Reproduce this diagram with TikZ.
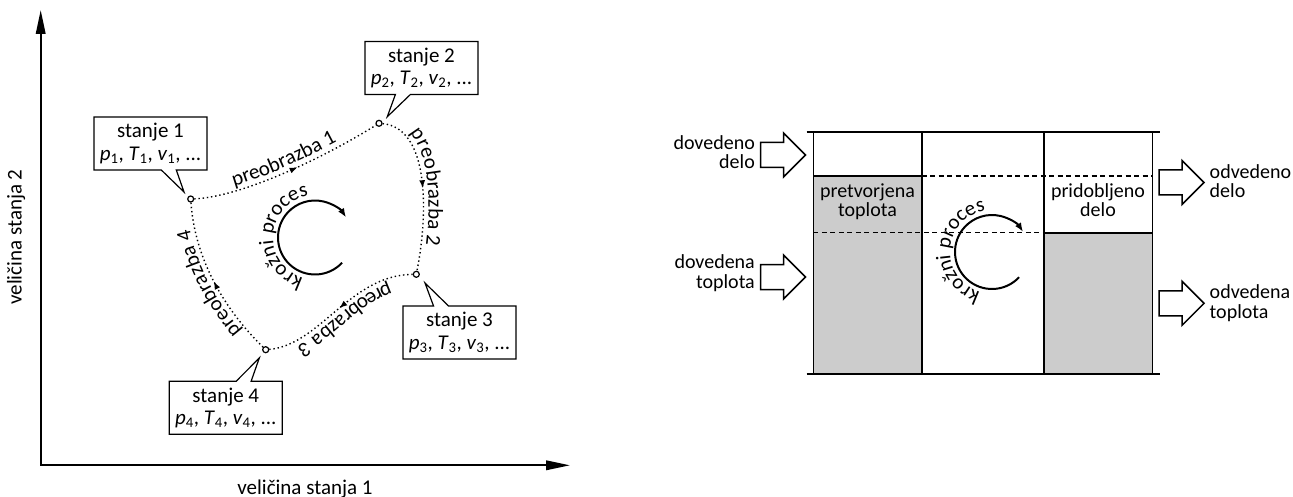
\documentclass[tikz,border=0pt]{standalone}
\usepackage{fontspec}
\setmainfont{Carlito}
\usetikzlibrary{arrows.meta,decorations.markings,decorations.text,shapes.callouts}
\newcommand\lblfont{\fontsize{21pt}{22.3pt}\selectfont}
\newcommand\colfont{\fontsize{20pt}{19.5pt}\selectfont}
\newcommand\pvt[1]{\textit{p}\textsubscript{#1}, \textit{T}\textsubscript{#1}, \textit{v}\textsubscript{#1}, ...}
\definecolor{shadegray}{gray}{0.8}
\begin{document}
\begin{tikzpicture}[x=1pt,y=-1pt,
  font=\lblfont,
  axisline/.style={line width=2pt, line join=miter},
  state/.style={rectangle callout, draw, fill=white, line width=1.2pt,
    minimum width=113pt, minimum height=53pt, inner sep=0pt, align=center,
    callout pointer width=15pt},
  dotpt/.style={circle, draw, fill=white, line width=1.2pt, minimum size=6pt, inner sep=0pt},
  procline/.style={line width=1.4pt, dash pattern=on 1.4pt off 2.8pt,
    postaction={decorate, decoration={markings,
      mark=at position #1 with {\arrow{Latex[length=8pt,width=6pt]}}}}},
  proclabel/.style={decorate, decoration={text along path,
    text={|\lblfont|#1}, text align=center, raise=5pt}},
  colline/.style={line width=1.6pt},
  hline/.style={line width=2.2pt},
  dashline/.style={line width=1.3pt, dash pattern=on 5pt off 3.5pt},
  coltext/.style={font=\colfont, inner sep=0pt},
  cyc/.pic={
    \draw[line width=2pt, -{Latex[length=9pt,width=7pt]}]
      (43:37) arc[start angle=43, end angle=327, radius=37];
    \path[decorate, decoration={text along path,
      text={|\lblfont|krožni proces}, text align=center}]
      (92:42) arc[start angle=92, end angle=275, radius=42];
  },
  barrow/.pic={
    \draw[fill=white, line width=1.5pt, line join=miter]
      (-23,-12.5) -- (0,-12.5) -- (0,-22) -- (22,0) -- (0,22) -- (0,12.5) -- (-23,12.5) -- cycle;
  }
]
\useasboundingbox (0,0) rectangle (1293,497);

% ---------------- left diagram ----------------
\coordinate (origin) at (40.7,465.3);
\coordinate (ytip) at (40.7,10);
\coordinate (xtip) at (570,465.3);
\draw[axisline, {Triangle[length=24pt,width=9.5pt]}-{Triangle[length=24pt,width=9.5pt]}]
  (ytip) -- (origin) -- (xtip);
\node[anchor=base] (xlab) at (305,494) {veličina stanja 1};
\node[anchor=base, rotate=90] (ylab) at (21.5,237) {veličina stanja 2};

\node[dotpt] (p1) at (190.7,199) {};
\node[dotpt] (p2) at (379,123.3) {};
\node[dotpt] (p3) at (416.3,274.3) {};
\node[dotpt] (p4) at (265.7,349.7) {};

\draw[procline=0.55] (p1) .. controls (240,197) and (320,160) .. (p2);
\draw[procline=0.5] (p2) .. controls (430,128) and (428,215) .. (p3);
\draw[procline=0.5] (p3) .. controls (350,275) and (320,345) .. (p4);
\draw[procline=0.5] (p4) .. controls (225,310) and (195,260) .. (p1);

\path[proclabel={preobrazba 1}] (p1) .. controls (240,197) and (320,160) .. (p2);
\path[proclabel={preobrazba 2}] (p2) .. controls (430,128) and (428,215) .. (p3);
\path[proclabel={preobrazba 3}] (p3) .. controls (350,275) and (320,345) .. (p4);
\path[proclabel={preobrazba 4}] (p4) .. controls (225,310) and (195,260) .. (p1);

\coordinate (t1) at (184,192);
\coordinate (t2) at (387.3,116.7);
\coordinate (t3) at (425,283);
\coordinate (t4) at (259.3,358);
\node[state, callout absolute pointer={(t1)}] (s1) at (150.5,143.5) {stanje 1\\\pvt{1}};
\node[state, callout absolute pointer={(t2)}] (s2) at (421.5,68) {stanje 2\\\pvt{2}};
\node[state, callout absolute pointer={(t3)}] (s3) at (459.5,332.5) {stanje 3\\\pvt{3}};
\node[state, callout absolute pointer={(t4)}] (s4) at (225.8,407.8) {stanje 4\\\pvt{4}};

\pic (cycL) at (315,237.5) {cyc};

% ---------------- right diagram ----------------
\fill[shadegray] (813.3,176) rectangle (921.7,374.3);
\fill[shadegray] (1044,232.7) rectangle (1152.3,374.3);
\draw[dashline] (921.7,176) -- (1152.3,176);
\draw[dashline] (813.3,232.7) -- (1044,232.7);
\draw[hline] (813.3,176) -- (921.7,176);
\draw[hline] (1044,232.7) -- (1152.3,232.7);
\foreach \xx in {813.3,921.7,1044,1152.3} {
  \draw[colline] (\xx,132.3) -- (\xx,374.3);
}
\draw[hline] (806.7,132.3) -- (1160,132.3);
\draw[hline] (806.7,374.3) -- (1160,374.3);

\node[coltext, align=center] (conv) at (867.5,201.7) {pretvorjena\\toplota};
\node[coltext, align=center] (gain) at (1098,200) {pridobljeno\\delo};

\pic (cycR) at (992,252) {cyc};

\pic (ainW) at (783.5,155) {barrow};
\pic (ainQ) at (783.5,277) {barrow};
\pic (aoutW) at (1182,182.5) {barrow};
\pic (aoutQ) at (1182,303.3) {barrow};

\node[coltext, align=right, anchor=east] (inW) at (755,152) {dovedeno\\delo};
\node[coltext, align=right, anchor=east] (inQ) at (755,273) {dovedena\\toplota};
\node[coltext, align=left, anchor=west] (outW) at (1209.5,181) {odvedeno\\delo};
\node[coltext, align=left, anchor=west] (outQ) at (1209.5,303) {odvedena\\toplota};
\end{tikzpicture}
\end{document}
